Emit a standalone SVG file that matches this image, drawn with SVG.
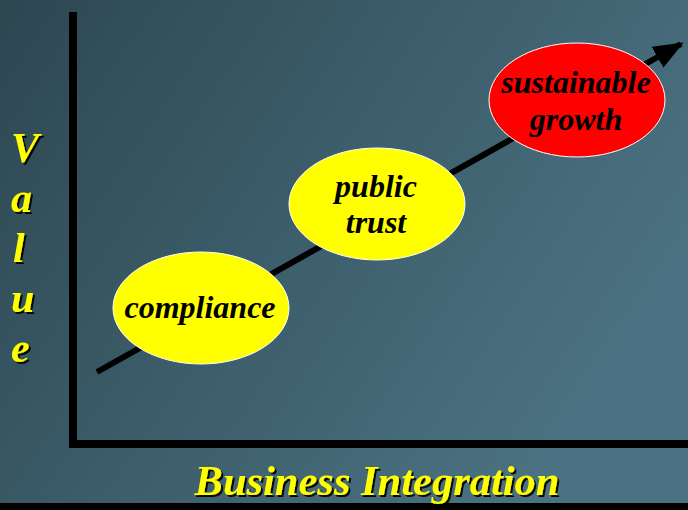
<svg xmlns="http://www.w3.org/2000/svg" width="688" height="510" viewBox="0 0 688 510">
  <defs>
    <linearGradient id="bg" x1="0" y1="0" x2="1" y2="0.5">
      <stop offset="0" stop-color="#2d4751"/>
      <stop offset="1" stop-color="#4b7282"/>
    </linearGradient>
    <marker id="arrow" markerWidth="5" markerHeight="4" refX="4.5" refY="2" orient="auto" markerUnits="strokeWidth">
      <path d="M0,0 L5,2 L0,4 Z" fill="#000"/>
    </marker>
    <filter id="sh" x="-10%" y="-10%" width="130%" height="130%">
      <feDropShadow dx="2" dy="2" stdDeviation="0.4" flood-color="#000" flood-opacity="0.9"/>
    </filter>
  </defs>
  <style>
    .lbl { font-family: "Liberation Serif", "Times New Roman", serif; font-weight: bold; font-style: italic; }
    .axis-t { fill: #ffff00; filter: url(#sh); }
    .node-t { fill: #000; font-size: 32px; text-anchor: middle; }
    .ell { stroke: #ffffff; stroke-width: 1; }
  </style>
  <rect x="0" y="0" width="688" height="510" fill="url(#bg)"/>
  <g id="axes">
    <rect x="69" y="12" width="8" height="433" fill="#000"/>
    <rect x="69" y="440" width="619" height="8" fill="#000"/>
    <rect x="0" y="503" width="688" height="7" fill="#000"/>
  </g>
  <g id="connectors">
    <line x1="97" y1="372" x2="681" y2="44" stroke="#000" stroke-width="6" marker-end="url(#arrow)"/>
  </g>
  <g id="compliance">
    <ellipse class="ell" cx="201" cy="308" rx="88" ry="56" fill="#ffff00"/>
    <text class="lbl node-t" x="200" y="318">compliance</text>
  </g>
  <g id="public-trust">
    <ellipse class="ell" cx="377" cy="204" rx="88" ry="56" fill="#ffff00"/>
    <text class="lbl node-t" x="376" y="197">public</text>
    <text class="lbl node-t" x="376" y="233">trust</text>
  </g>
  <g id="sustainable-growth">
    <ellipse class="ell" cx="577" cy="100" rx="88" ry="57" fill="#ff0000"/>
    <text class="lbl node-t" x="576" y="93">sustainable</text>
    <text class="lbl node-t" x="576" y="130">growth</text>
  </g>
  <g id="y-label" class="lbl axis-t" font-size="42">
    <text x="11" y="162">V</text>
    <text x="11" y="212">a</text>
    <text x="13" y="262">l</text>
    <text x="11" y="312">u</text>
    <text x="11" y="362">e</text>
  </g>
  <g id="x-label">
    <text class="lbl axis-t" x="377" y="495" font-size="42.5" text-anchor="middle">Business Integration</text>
  </g>
</svg>
